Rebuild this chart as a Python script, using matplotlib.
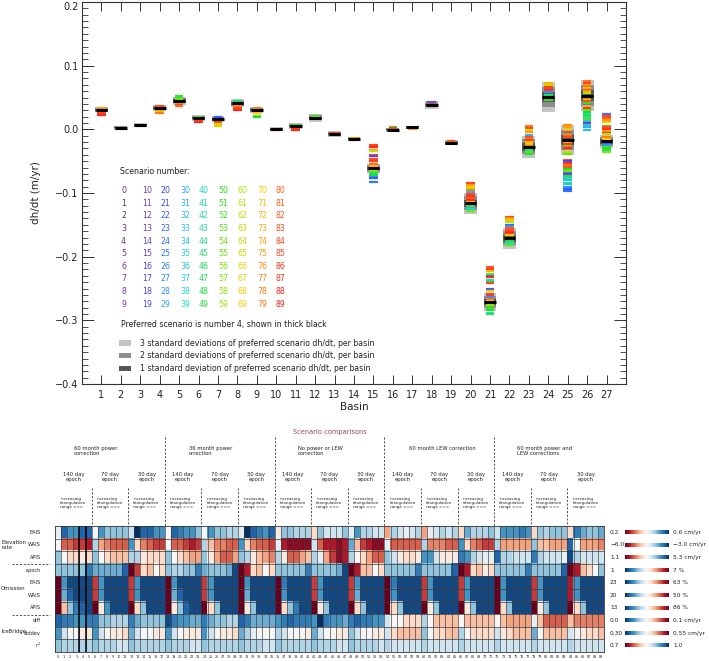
import matplotlib
matplotlib.use("Agg")
import matplotlib.pyplot as plt
import numpy as np
from matplotlib.colors import LinearSegmentedColormap
from matplotlib.patches import Rectangle
from matplotlib.ticker import MultipleLocator

# ---------------- top panel: dh/dt per basin ----------------
basins = list(range(1, 28))

# preferred scenario (number 4) dh/dt, m/yr
pref_dhdt = [0.031, 0.0025, 0.007, 0.033, 0.045, 0.018, 0.016, 0.041, 0.030,
             0.000, 0.005, 0.018, -0.007, -0.0145, -0.0615, -0.0005, 0.003,
             0.0385, -0.021, -0.116, -0.271, -0.171, -0.0275, 0.0505, -0.017,
             0.053, -0.019]
# one standard deviation of the preferred scenario
pref_sigma = [0.0015, 0.001, 0.001, 0.0015, 0.002, 0.0015, 0.0015, 0.002,
              0.0015, 0.001, 0.0015, 0.002, 0.0015, 0.001, 0.0026, 0.001,
              0.001, 0.002, 0.0012, 0.0055, 0.0048, 0.0056, 0.0059, 0.008,
              0.0078, 0.008, 0.0035]

# visible scenario dashes per basin: scenario number and dh/dt
dash_scen = [
    [15, 25, 55, 66, 75, 84, 88],
    [66, 78, 85],
    [35, 85],
    [84, 75, 68, 78],
    [52, 45, 57, 75, 85, 79],
    [55, 84, 88],
    [22, 85, 70, 64],
    [35, 50, 77, 85, 88],
    [78, 85, 70, 55, 50],
    [75, 82],
    [52, 85, 88],
    [50, 55, 65],
    [85, 52],
    [75, 82],
    [85, 88, 75, 65, 82, 15, 84, 86, 80, 72, 62, 55, 45, 50, 28, 22, 25],
    [52, 85, 22],
    [75, 70],
    [22, 85, 68],
    [85, 80],
    [85, 75, 68, 62, 78, 32, 84, 87, 82, 88, 72, 52, 45, 38, 55],
    [82, 86, 72, 55, 25, 88, 38, 50, 84, 22, 70, 85, 87, 28, 80, 68, 66, 58,
     52, 48, 42, 45],
    [85, 76, 70, 62, 22, 28, 82, 84, 86, 88, 68, 52, 48, 38, 55],
    [78, 85, 66, 75, 32, 84, 77, 86, 72, 68, 79, 52, 42, 55, 48],
    [72, 62, 85, 84, 87, 28, 42, 50, 55, 52],
    [76, 74, 66, 85, 35, 78, 84, 72, 86, 52, 77, 88, 62, 55, 82, 18, 87, 79,
     83, 50, 57, 25, 12, 48, 38, 34, 45, 36, 28, 22, 24],
    [78, 85, 76, 82, 68, 86, 74, 62, 58, 77, 64, 84, 52, 25, 72, 87, 55, 50,
     38, 48, 42, 54, 35, 12, 36, 32, 34],
    [25, 85, 82, 76, 68, 52, 84, 87, 74, 88, 62, 78, 70, 22, 28, 55, 50, 45, 57],
]
dash_dhdt = [
    [0.032, 0.031, 0.030, 0.028, 0.033, 0.025, 0.023],
    [0.002, 0.001, 0.0015],
    [0.007, 0.0055],
    [0.036, 0.030, 0.027, 0.025],
    [0.052, 0.049, 0.047, 0.041, 0.038, 0.036],
    [0.020, 0.013, 0.011],
    [0.019, 0.012, 0.009, 0.006],
    [0.045, 0.043, 0.037, 0.034, 0.030],
    [0.033, 0.027, 0.025, 0.021, 0.019],
    [-0.0015, -0.001],
    [0.0065, 0.002, -0.0005],
    [0.021, 0.019, 0.017],
    [-0.005, -0.009],
    [-0.013, -0.016],
    [-0.025, -0.028, -0.032, -0.034, -0.040, -0.042, -0.047, -0.050, -0.054,
     -0.057, -0.064, -0.067, -0.069, -0.072, -0.0745, -0.077, -0.083],
    [0.0035, 0.0017, -0.001],
    [0.001, 0.002],
    [0.043, 0.040, 0.036],
    [-0.019, -0.020],
    [-0.085, -0.0875, -0.090, -0.093, -0.096, -0.099, -0.102, -0.105, -0.108,
     -0.111, -0.1135, -0.119, -0.121, -0.1255, -0.129],
    [-0.216, -0.219, -0.223, -0.227, -0.230, -0.232, -0.237, -0.240, -0.242,
     -0.2515, -0.254, -0.258, -0.261, -0.2635, -0.266, -0.269, -0.2735,
     -0.2765, -0.280, -0.284, -0.288, -0.2905],
    [-0.137, -0.1395, -0.142, -0.145, -0.150, -0.1525, -0.155, -0.158,
     -0.1605, -0.163, -0.1665, -0.1735, -0.176, -0.1785, -0.181],
    [0.005, 0.0025, -0.0015, -0.004, -0.0095, -0.012, -0.0145, -0.017, -0.020,
     -0.0225, -0.0255, -0.030, -0.033, -0.0355, -0.038],
    [0.073, 0.070, 0.067, 0.0635, 0.061, 0.058, 0.0545, 0.052, 0.048, 0.0455],
    [0.0073, 0.0036, -0.0005, -0.004, -0.007, -0.0095, -0.012, -0.020,
     -0.0225, -0.0255, -0.0275, -0.030, -0.0355, -0.039, -0.0475, -0.0495,
     -0.0525, -0.0555, -0.059, -0.0625, -0.065, -0.068, -0.070, -0.0735,
     -0.076, -0.080, -0.084, -0.086, -0.090, -0.094, -0.097],
    [0.0755, 0.073, 0.070, 0.067, 0.065, 0.0625, 0.060, 0.057, 0.0515, 0.049,
     0.0465, 0.044, 0.041, 0.0385, 0.036, 0.033, 0.031, 0.028, 0.0245, 0.022,
     0.019, 0.016, 0.013, 0.010, 0.007, 0.0035, -0.0015],
    [0.0235, 0.021, 0.018, 0.014, 0.0115, 0.006, 0.0035, 0.001, -0.0025,
     -0.005, -0.008, -0.012, -0.0145, -0.0225, -0.025, -0.0275, -0.030,
     -0.033, -0.0355],
]
y_ticks = [-0.4, -0.3, -0.2, -0.1, 0.0, 0.1, 0.2]
y_ticklabels = ["\u22120.4", "\u22120.3", "\u22120.2", "\u22120.1", "0.0", "0.1", "0.2"]

# ---------------- bottom panel: scenario comparisons ----------------
# each value is the position along that row's colour bar (0 = left label, 10 = right label)
elev_eais = [5.5, 9, 8, 8, 9, 9, 5, 8, 7, 7, 7, 7, 6, 10, 9, 9, 8, 8,
             5, 9, 8.5, 8, 8, 7, 5, 8, 7, 7, 6.5, 6.5, 5.5, 10, 9, 8.5, 8, 9,
             4.5, 7, 7, 6.5, 6.5, 6.5, 4, 7, 6, 6, 6, 7, 5.5, 8, 6.5, 6.5, 6, 6,
             3, 6.5, 6, 5.5, 6, 6.5, 3, 5.5, 6, 6.5, 6, 6.5, 4, 7.5, 6.5, 6.5, 6.5, 7,
             6, 8, 8, 8, 8.5, 8, 4, 7, 6.5, 7, 7, 7, 4, 8.5, 7.5, 7, 7, 7.5]
elev_wais = [5, 2, 2, 1.5, 1.5, 1, 6.5, 3, 2.5, 2, 2, 2, 8, 4, 2.5, 2, 1.5, 1.5,
             5, 2, 2, 1.5, 1, 1.5, 6.5, 3.5, 2.5, 2.5, 2, 2, 8, 4, 2.5, 2, 2, 1.5,
             5.5, 1, 0.5, 0.5, 0.5, 0.5, 6, 2, 1, 1, 0.5, 1, 7.5, 3.5, 1.5, 1, 0.5, 0.5,
             5.5, 2, 2, 2, 2, 2, 6.5, 2.5, 2.5, 2.5, 2, 2, 8, 4, 2.5, 2, 1.5, 1.5,
             6.5, 3, 3, 3, 3, 3, 7, 3.5, 3.5, 3, 3, 3, 9, 5, 3, 3, 3, 2.5]
elev_apis = [7, 5, 4, 4, 4.5, 4, 7, 5, 4, 3.5, 3.5, 3.5, 6.5, 6.5, 4.5, 4, 4, 4,
             7, 5, 4, 3.5, 3, 3, 7, 4.5, 3, 2, 2, 3, 7, 6.5, 4.5, 3.5, 3, 2.5,
             6.5, 4.5, 2, 2, 3, 3.5, 6.5, 5.5, 3, 1.5, 0.5, 1, 6.5, 5, 4, 3, 2, 2,
             7, 6, 4.5, 4, 4, 4.5, 8, 8, 6, 4.5, 4.5, 4.5, 8.5, 8, 6.5, 6, 5.5, 5.5,
             9, 6.5, 6.5, 6, 6, 6, 8.5, 6.5, 6, 6, 6, 5.5, 9.5, 6.5, 6, 6, 6, 6]
om_epoch = [3, 3, 3, 3, 3, 1.5, 2.5, 2.5, 2.5, 2.5, 2.5, 1, 10, 8.5, 6, 6.5, 5, 6,
            3, 3.5, 3.5, 3, 3, 1.5, 2.5, 3, 3, 3, 2.5, 0.5, 10, 9, 6, 6.5, 5, 6,
            3, 3, 3, 3, 3, 1.5, 3, 3, 3, 3, 2.5, 0.5, 10, 9, 6.5, 6.5, 5, 6,
            3, 3, 3, 3, 3, 1.5, 3, 3, 3, 3, 3, 1, 10, 9, 6, 6.5, 5.5, 6,
            3, 3, 3, 3, 3, 1.5, 3, 3, 3, 3, 3, 1, 10, 9, 6.5, 6, 5, 3]
om_eais = [10, 2, 0.5, 0.5, 0.5, 0.5, 8.5, 2, 0.5, 0.5, 0.5, 0.5, 8.5, 2, 0.5, 0.5, 0.5, 0.5,
           10, 2, 0.5, 0.5, 0.5, 0.5, 8.5, 2, 0.5, 0.5, 0.5, 0.5, 10, 2, 0.5, 0.5, 0.5, 0.5,
           10, 1.5, 0.5, 0.5, 0.5, 0.5, 8.5, 2, 0.5, 0.5, 0.5, 0.5, 8.5, 2, 0.5, 0.5, 0.5, 0.5,
           10, 1.5, 0.5, 0.5, 0.5, 0.5, 8.5, 2, 0.5, 0.5, 0.5, 0.5, 8.5, 2, 0.5, 0.5, 0.5, 0.5,
           10, 2, 0.5, 0.5, 0.5, 0.5, 8.5, 2, 0.5, 0.5, 0.5, 0.5, 9, 2, 0.5, 0.5, 0.5, 0.5]
om_wais = [10, 2.5, 1, 0.5, 0.5, 0.5, 8.5, 2, 0.5, 0.5, 0.5, 0.5, 8.5, 2, 0.5, 0.5, 0.5, 0.5,
           10, 2.5, 1, 0.5, 0.5, 0.5, 8.5, 2, 0.5, 0.5, 0.5, 0.5, 10, 2.5, 0.5, 0.5, 0.5, 0.5,
           10, 2, 0.5, 0.5, 0.5, 0.5, 8.5, 2, 0.5, 0.5, 0.5, 0.5, 8.5, 2.5, 0.5, 0.5, 0.5, 0.5,
           10, 2, 0.5, 0.5, 0.5, 0.5, 8.5, 2, 0.5, 0.5, 0.5, 0.5, 8.5, 2, 0.5, 0.5, 0.5, 0.5,
           10, 2, 0.5, 0.5, 0.5, 0.5, 8.5, 2, 0.5, 0.5, 0.5, 0.5, 9, 2, 0.5, 0.5, 0.5, 0.5]
om_apis = [10, 6.5, 3, 1.5, 1, 0.5, 10, 5.5, 2, 0.5, 0.5, 0.5, 10, 6, 3, 0.5, 0.5, 0.5,
           10, 5.5, 3, 1, 0.5, 0.5, 10, 6, 3, 0.5, 0.5, 0.5, 10, 5.5, 3, 0.5, 0.5, 0.5,
           10, 6, 3, 1.5, 0.5, 0.5, 10, 5.5, 3, 0.5, 0.5, 0.5, 10, 6, 3, 0.5, 0.5, 0.5,
           10, 6, 3, 0.5, 0.5, 0.5, 10, 5.5, 3, 0.5, 0.5, 0.5, 10, 5.5, 3, 0.5, 0.5, 0.5,
           10, 6, 3, 0.5, 0.5, 0.5, 10, 5.5, 3, 0.5, 0.5, 0.5, 10, 6, 3, 0.5, 0.5, 0.5]
ib_diff = [1, 1.5, 1.5, 2, 2, 1.5, 1.5, 3, 3, 3.5, 3.5, 3.5, 1.5, 2.5, 3, 3, 3, 3,
           0.5, 1.5, 2, 2, 2.5, 2.5, 1.5, 2.5, 3, 3, 3.5, 3.5, 1, 1.5, 2.5, 2.5, 2.5, 2.5,
           2, 1.5, 1, 1.5, 1.5, 1.5, 2, 0, 1.5, 2, 2, 2.5, 1.5, 1, 1.5, 1.5, 2, 2,
           4, 5, 5, 6, 6, 6, 3.5, 5, 6.5, 6.5, 6.5, 6.5, 5, 6.5, 6.5, 6.5, 6.5, 6.5,
           5, 6.5, 7, 7, 7, 7, 4.5, 6.5, 8, 8, 8, 8, 6.5, 7.5, 7.5, 7.5, 7.5, 7.5]
ib_stddev = [2, 4, 5, 5, 5.5, 5.5, 2, 4, 5, 5.5, 5.5, 6, 2.5, 4, 5, 5, 5.5, 5.5,
             2, 4, 5, 5.5, 5.5, 5.5, 2, 4, 5, 5.5, 5.5, 6, 2.5, 3.5, 4.5, 5, 5, 5,
             3.5, 4, 5, 5, 5, 5.5, 2.5, 4, 5, 5, 5.5, 5.5, 3, 4, 5, 5, 5.5, 5.5,
             4, 6, 6.5, 6.5, 6.5, 6.5, 3, 5, 6, 6, 6.5, 6.5, 3.5, 5, 6, 6, 6, 6,
             4, 5.5, 6, 6.5, 6.5, 6.5, 2.5, 5, 6.5, 6.5, 6.5, 6.5, 4, 5, 5.5, 6, 6, 6.5]
ib_r2 = [7, 6.5, 6.5, 6.5, 6.5, 6.5, 7, 6.5, 6.5, 6.5, 6, 6, 7, 6.5, 6.5, 6.5, 6.5, 6.5,
         7, 6.5, 6.5, 6.5, 6, 6, 7, 6.5, 6.5, 6.5, 6.5, 6.5, 7, 6.5, 6.5, 6.5, 6, 6,
         7, 6.5, 6.5, 6.5, 6.5, 6.5, 7, 6.5, 6.5, 6.5, 6, 6, 7, 6.5, 6.5, 6.5, 6.5, 6,
         6.5, 6, 6, 6, 6, 6, 6.5, 6, 6, 6, 6, 6, 6.5, 6, 6, 6, 6, 6,
         6.5, 6, 6, 6, 6, 6, 6.5, 6, 6, 6, 6, 6, 6.5, 6, 6, 6, 6, 6]

row_names = ["EAIS", "WAIS", "APIS", "epoch", "EAIS", "WAIS", "APIS",
             "diff", "stddev", "r$^2$"]
bar_lo = ["0.2", "\u22126.0", "1.1", "1", "23", "20", "13", "0.0", "0.30", "0.7"]
bar_hi = ["0.6 cm/yr", "\u22123.0 cm/yr", "5.3 cm/yr", "7 %", "63 %", "50 %",
          "86 %", "0.1 cm/yr", "0.55 cm/yr", "1.0"]
group_names = ["60 month power\ncorrection", "36 month power\norrection",
               "No power or LEW\ncorrection", "60 month LEW correction",
               "60 month power and\nLEW corrections"]
epoch_names = ["140 day\nepoch", "70 day\nepoch", "30 day\nepoch"]

rows = [elev_eais, elev_wais, elev_apis, om_epoch, om_eais, om_wais,
        om_apis, ib_diff, ib_stddev, ib_r2]
row_cmaps = ["RdBu", "RdBu", "RdBu", "RdBu_r", "RdBu_r", "RdBu_r", "RdBu_r",
             "RdBu_r", "RdBu_r", "RdBu"]

scen_cmap = LinearSegmentedColormap.from_list("scen", [
    (0.0, "#5b2c6f"), (10/89, "#7b3fb5"), (20/89, "#3a4bff"),
    (30/89, "#2aa8ff"), (40/89, "#1de0c0"), (50/89, "#22e022"),
    (60/89, "#a8e800"), (70/89, "#ffc800"), (80/89, "#ff6a1a"),
    (1.0, "#ff2222")])

TXT = "#222222"
W, H = 709, 661
fig = plt.figure(figsize=(W / 100, H / 100), dpi=100)


def box(x0, y0, x1, y1):
    return [x0 / W, 1 - y1 / H, (x1 - x0) / W, (y1 - y0) / H]


# ---------- top panel ----------
ax = fig.add_axes(box(82, 2, 626, 384))
greys = [(3, "#c4c4c4"), (2, "#8e8e8e"), (1, "#575757")]
for i, b in enumerate(basins):
    p, s = pref_dhdt[i], pref_sigma[i]
    for k, col in greys:
        ax.add_patch(Rectangle((b - 0.33, p - k * s), 0.66, 2 * k * s,
                               facecolor=col, edgecolor="none", zorder=1))
    cols = scen_cmap(np.array(dash_scen[i]) / 89.0)
    ax.hlines(dash_dhdt[i], b - 0.22, b + 0.22, colors=cols, lw=1.6, zorder=2)
    ax.hlines(p, b - 0.3, b + 0.3, color="k", lw=2.2, zorder=3)

ax.set_xlim(0, 28)
ax.set_ylim(-0.4, 0.2)
ax.set_xticks(basins)
ax.set_yticks(y_ticks)
ylabs = ax.set_yticklabels(y_ticklabels)
ylabs[-1].set_va("top")
ax.yaxis.set_minor_locator(MultipleLocator(0.01))
ax.tick_params(axis="both", which="both", direction="in", top=True,
               right=True, colors="#333333", labelcolor=TXT, labelsize=7)
ax.tick_params(axis="y", which="major", length=8.5, width=0.7, pad=2.5)
ax.tick_params(axis="y", which="minor", length=4.3, width=0.6)
ax.tick_params(axis="x", which="major", length=6.5, width=0.7, pad=4)
for sp in ax.spines.values():
    sp.set_color("#333333")
    sp.set_linewidth(0.8)
ax.set_xlabel("Basin", fontsize=7.5, color=TXT, labelpad=2)
ax.set_ylabel("dh/dt (m/yr)", fontsize=7.5, color=TXT, labelpad=10)

# ---------- heatmap ----------
hm = fig.add_axes(box(55, 526, 604, 652))
ncol = len(elev_eais)
nrow = len(rows)
rgb = np.array([plt.get_cmap(cm)(np.array(vals) / 10.0)
                for vals, cm in zip(rows, row_cmaps)])
hm.imshow(rgb, extent=[0, ncol, nrow, 0], aspect="auto",
          interpolation="nearest")
hm.vlines(np.arange(1, ncol), 0, nrow, color="#3a3a3a", lw=0.45)
hm.hlines(np.arange(1, nrow), 0, ncol, color="#3a3a3a", lw=0.5)
hm.vlines([4, 5], 0, nrow, color="k", lw=1.1)
hm.set_xlim(0, ncol)
hm.set_ylim(nrow, 0)
hm.set_xticks(np.arange(ncol) + 0.5)
hm.set_xticklabels([str(i) for i in range(ncol)], fontsize=2.4, color=TXT)
hm.tick_params(length=0, pad=2)
hm.set_yticks([])
for sp in hm.spines.values():
    sp.set_color("#333333")
    sp.set_linewidth(0.6)

# ---------- overlay for legend, headers and colour bars ----------
ov = fig.add_axes([0, 0, 1, 1])
ov.axis("off")

# scenario legend
ov.text(120, 172, "Scenario number:", fontsize=5.7, color=TXT, va="center")
col_x = [121, 142, 160, 180, 199, 218, 238, 257, 276]
for c in range(9):
    for r in range(10):
        n = 10 * c + r
        ov.text(col_x[c], 190.7 + 12.6 * r, str(n), fontsize=5.7,
                color=scen_cmap(n / 89.0), va="center")
ov.text(121, 324, "Preferred scenario is number 4, shown in thick black",
        fontsize=5.6, color=TXT, va="center")
sd_text = ["3 standard deviations of preferred scenario dh/dt, per basin",
           "2 standard deviations of preferred scenario dh/dt, per basin",
           "1 standard deviation of preferred scenario dh/dt, per basin"]
for j, (t, (k, col)) in enumerate(zip(sd_text, greys)):
    y = 343 + 12.6 * j
    ov.add_patch(Rectangle((119, y - 2.7), 12, 5.4, facecolor=col,
                           edgecolor="none"))
    ov.text(140, y, t, fontsize=5.6, color=TXT, va="center")

# heatmap header
cw = (604 - 55) / ncol
ov.text(330, 432, "Scenario comparisons", fontsize=4.8, color="#a0405a",
        ha="center", va="center")
group_x = [74, 189, 298, 442, 517]
for g, name in enumerate(group_names):
    ha = "center" if "\n" not in name else "left"
    ov.text(group_x[g], 451 if "\n" in name else 449, name, fontsize=3.8,
            color=TXT, ha=ha, va="center", linespacing=0.85)
for k in range(15):
    xc = 55 + cw * (6 * k + 3)
    ov.text(xc, 477, epoch_names[k % 3], fontsize=3.8, color=TXT,
            ha="center", va="center", linespacing=0.85)
    ov.text(xc, 503, "increasing\ntriangulation\nrange ==>", fontsize=2.9,
            color=TXT, ha="center", va="center", multialignment="left",
            linespacing=1.0)
for j in range(1, 15):
    x = 55 + cw * 6 * j
    y0 = 437 if j % 3 == 0 else 488
    ov.plot([x, x], [y0, 526], color="#333333", lw=0.6, ls=(0, (2.5, 2)))

# row labels and group labels
row_h = (652 - 526) / nrow
for r, name in enumerate(row_names):
    ov.text(41, 526 + row_h * (r + 0.5), name, fontsize=3.6, color=TXT,
            ha="right", va="center")
ov.text(1, 545, "Elevation\nrate", fontsize=3.9, color=TXT, va="center",
        linespacing=0.85)
ov.text(1, 588, "Omission", fontsize=3.9, color=TXT, va="center")
ov.text(1, 632, "IceBridge", fontsize=3.9, color=TXT, va="center")
for y in (563.5, 614.5):
    ov.plot([12, 50], [y, y], color="#333333", lw=0.6, ls=(0, (2.5, 2)))

# colour bars
grad = np.linspace(0, 1, 256)[None, :]
for r, cm in enumerate(row_cmaps):
    y = 526 + row_h * (r + 0.5)
    ov.imshow(grad, cmap=cm, extent=[625, 669, y + 1.8, y - 1.8],
              aspect="auto", interpolation="bilinear")
    ov.text(610, y, bar_lo[r], fontsize=4.2, color=TXT, va="center")
    ov.text(673, y, bar_hi[r], fontsize=4.2, color=TXT, va="center")

ov.set_xlim(0, W)
ov.set_ylim(H, 0)

fig.savefig("out.png", dpi=100)
